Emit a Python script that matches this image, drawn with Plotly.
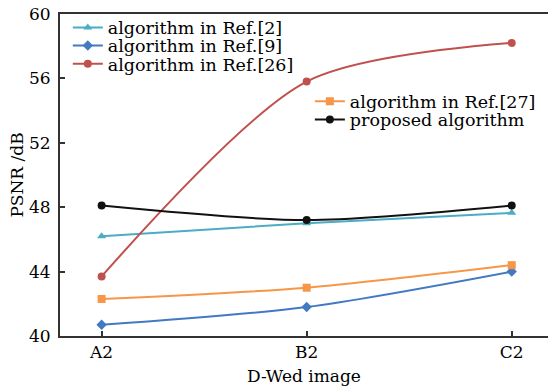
import plotly.graph_objects as go

categories = ["A2", "B2", "C2"]
ref2 = [46.2, 47.0, 47.65]
ref9 = [40.7, 41.8, 44.0]
ref26 = [43.7, 55.8, 58.2]
ref27 = [42.3, 43.0, 44.4]
proposed = [48.1, 47.2, 48.1]
y_ticks = [40, 44, 48, 52, 56, 60]

FONT = "DejaVu Serif"
xs = [0, 1, 2]

# (name, values, color, symbol, legend id, legend x, legend y in paper)
series = [
    ("algorithm in Ref.[2]", ref2, "#4bacc6", "triangle-up", "legend", 0.016, 0.958),
    ("algorithm in Ref.[9]", ref9, "#4279c2", "diamond", "legend2", 0.016, 0.902),
    ("algorithm in Ref.[26]", ref26, "#c0504d", "circle", "legend3", 0.016, 0.845),
    ("algorithm in Ref.[27]", ref27, "#f79646", "square", "legend4", 0.512, 0.729),
    ("proposed algorithm", proposed, "#111111", "circle", "legend5", 0.512, 0.672),
]

fig = go.Figure()
legends = {}
for name, vals, color, sym, lg, lx, ly in series:
    fig.add_trace(go.Scatter(
        x=xs, y=vals, name=name, mode="lines+markers",
        line=dict(color=color, width=2, shape="spline", smoothing=0.8),
        marker=dict(color=color, symbol=sym, size=8),
        legend=lg,
    ))
    legends[lg] = dict(
        x=lx, y=ly, xanchor="left", yanchor="middle",
        bgcolor="rgba(0,0,0,0)", font=dict(family=FONT, size=17.5, color="#000000"),
        tracegroupgap=0, itemwidth=30,
    )

axis_common = dict(
    showline=True, linecolor="#333333", linewidth=2,
    ticks="inside", ticklen=5, tickwidth=1.5, tickcolor="#333333",
    showgrid=False, zeroline=False, ticklabeloverflow="allow",
    tickfont=dict(family=FONT, size=17, color="#000000"),
)

fig.update_layout(
    width=548, height=390,
    margin=dict(l=60, r=0, t=14, b=54, autoexpand=False),
    paper_bgcolor="white", plot_bgcolor="white",
    font=dict(family=FONT, size=17, color="#000000"),
    xaxis=dict(
        range=[-0.203, 2.177], tickvals=xs, ticktext=categories, mirror=True,
        title=dict(text="D-Wed image", font=dict(family=FONT, size=17), standoff=9),
        **axis_common,
    ),
    yaxis=dict(
        range=[40, 60], tickvals=y_ticks, ticklabelstandoff=4, mirror=False,
        title=dict(text="PSNR /dB", font=dict(family=FONT, size=17), standoff=1),
        **axis_common,
    ),
    showlegend=True,
    **legends,
)

# remove the browser's default body margin / scrollbars so the figure fills the window exactly
fig.write_html(
    "out.html",
    config={"displayModeBar": False},
    post_script=(
        "document.body.style.margin='0px';"
        "document.body.style.overflow='hidden';"
        "document.documentElement.style.overflow='hidden';"
    ),
)
